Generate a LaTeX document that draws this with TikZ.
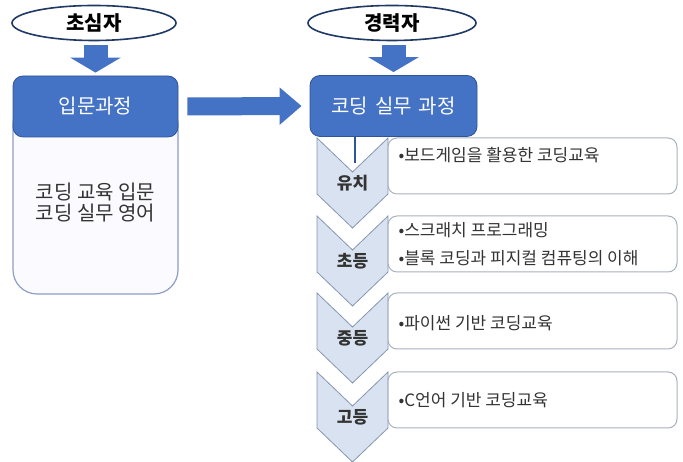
\documentclass[tikz,border=0pt]{standalone}
\usepackage{fontspec}
\setmainfont{Noto Sans CJK KR}
\usetikzlibrary{positioning,arrows.meta,shapes,calc}
\definecolor{hdblue}{HTML}{4472C4}
\definecolor{hdedge}{HTML}{2F5597}
\definecolor{navy}{HTML}{1F3864}
\definecolor{stagefill}{HTML}{D9E2F0}
\definecolor{stageedge}{HTML}{8497B0}
\definecolor{boxedge}{HTML}{A9B1BE}
\definecolor{bodyedge}{HTML}{8D9DC6}
\definecolor{txtgray}{HTML}{333333}
\tikzset{
  who/.style={ellipse, draw=navy, line width=1.6pt, fill=white, minimum width=164pt,
    minimum height=35pt, inner sep=0pt, font=\bfseries\fontsize{20}{22}\selectfont},
  head/.style={rectangle, rounded corners=10pt, fill=hdblue, draw=hdedge, line width=0.8pt,
    text=white, minimum width=165pt, minimum height=61pt, font=\fontsize{20}{22}\selectfont},
  basebody/.style={rectangle, rounded corners=24pt, fill=blue!2, draw=bodyedge, line width=1.2pt,
    minimum width=165pt, minimum height=194pt},
  bodytext/.style={align=center, text=txtgray, font=\fontsize{20}{21}\selectfont},
  stagebox/.style={fill=stagefill, draw=stageedge, line width=0.8pt},
  stage/.style={inner sep=0pt, text=txtgray, font=\bfseries\fontsize{17}{18}\selectfont},
  topic/.style={rectangle, rounded corners=9pt, fill=white, draw=boxedge, line width=1pt,
    minimum width=289pt, minimum height=56pt},
  topictext/.style={anchor=west, text=txtgray, font=\fontsize{17}{18}\selectfont},
  blockarrow/.style={draw=hdblue, line width=24pt, -{Triangle[length=15pt,width=50pt]}},
  widearrow/.style={draw=hdblue, line width=18pt, -{Triangle[length=22pt,width=36pt]}}
}
\newcommand{\chevronat}[1]{%
  \draw[stagebox] ($(#1)+(-35.5,45)$) -- ($(#1)+(0,11)$) -- ($(#1)+(35.5,45)$)
    -- ($(#1)+(35.5,-11)$) -- ($(#1)+(0,-45)$) -- ($(#1)+(-35.5,-11)$) -- cycle;}
\begin{document}
\begin{tikzpicture}[x=1pt,y=1pt]
  \useasboundingbox (0,0) rectangle (683,462);
  \node[who] (novice) at (94,439) {초심자};
  \node[who, minimum width=168pt] (expert) at (392,439) {경력자};

  \node[basebody] (introbody) at (95.5,265) {};
  \node[head] (intro) at (95.5,355.5) {입문과정};
  \node[bodytext] (introtxt) at (95.5,259) {코딩 교육 입문\\코딩 실무 영어};
  \node[head, minimum width=167pt] (coding) at (393.5,356) {코딩\hspace{7pt}실무\hspace{7pt}과정};

  \draw[blockarrow, shorten <=4pt, shorten >=3pt] (intro.north |- novice.south) -- (intro.north);
  \draw[blockarrow, shorten <=4pt, shorten >=3pt] (coding.north |- expert.south) -- (coding.north);
  \draw[widearrow, shorten <=9pt, shorten >=8pt] (intro.east) -- (coding.west);

  \coordinate (kinderc) at (352.5,279);
  \coordinate (elemc)   at (352.5,201);
  \coordinate (middlec) at (352.5,124);
  \coordinate (highc)   at (352.5,45);
  \chevronat{kinderc}
  \chevronat{elemc}
  \chevronat{middlec}
  \chevronat{highc}
  \node[stage] (kinder) at (kinderc) {유치};
  \node[stage] (elem)   at (elemc)   {초등};
  \node[stage] (middle) at (middlec) {중등};
  \node[stage] (high)   at (highc)   {고등};

  \coordinate (stem) at (355,299);
  \draw[hdedge, line width=1.6pt] (coding.south -| stem) -- (stem);

  \node[topic] (kinderbox) at (532.5,296) {};
  \node[topic] (elembox)   at (532.5,218) {};
  \node[topic] (middlebox) at (532.5,141) {};
  \node[topic] (highbox)   at (532.5,62)  {};

  \node[topictext] (kindertxt) at (395,307) {•보드게임을 활용한 코딩교육};
  \node[topictext] (elemtxta)  at (395,232) {•스크래치 프로그래밍};
  \node[topictext] (elemtxtb)  at (395,204) {•블록 코딩과 피지컬 컴퓨팅의 이해};
  \node[topictext] (middletxt) at (395,139) {•파이썬 기반 코딩교육};
  \node[topictext] (hightxt)   at (395,62)  {•C언어 기반 코딩교육};
\end{tikzpicture}
\end{document}
